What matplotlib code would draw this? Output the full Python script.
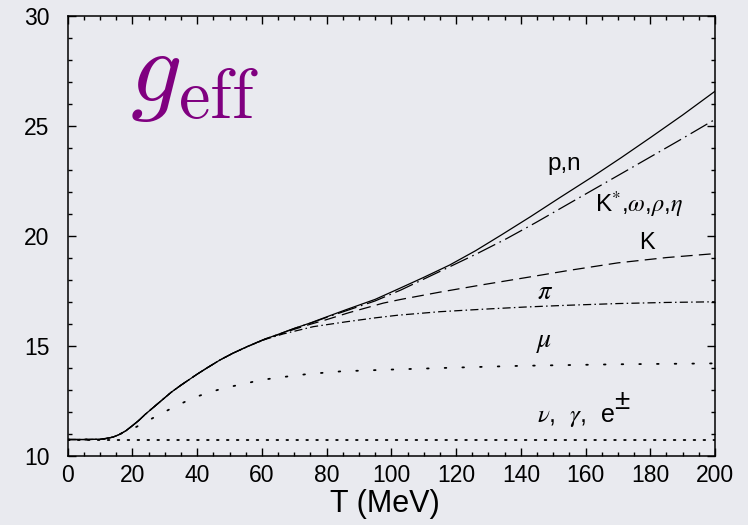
import matplotlib
matplotlib.use("Agg")
import matplotlib.pyplot as plt
from matplotlib.ticker import MultipleLocator

plt.rcParams['font.family'] = ['Liberation Sans', 'DejaVu Sans']
plt.rcParams['mathtext.fontset'] = 'stix'

# ---- data ----
T_total = [0, 5, 10, 12, 14, 16, 18, 20, 22, 24, 26, 28, 30, 32, 35, 38, 40, 43, 47, 51,
           56, 61, 66, 70, 75, 79, 86, 95, 103, 110, 118, 126, 134, 143, 152, 162, 171,
           180, 190, 200]
g_total = [10.75, 10.75, 10.76, 10.80, 10.86, 10.98, 11.15, 11.38, 11.62, 11.9, 12.15,
           12.4, 12.65, 12.9, 13.22, 13.52, 13.72, 14.0, 14.36, 14.67, 15.01, 15.32, 15.58,
           15.8, 16.05, 16.27, 16.65, 17.12, 17.65, 18.12, 18.68, 19.33, 20.05, 20.88,
           21.74, 22.68, 23.56, 24.47, 25.5, 26.58]

T_kstar = [0, 5, 10, 12, 14, 16, 18, 20, 22, 24, 26, 28, 30, 32, 35, 38, 40, 43, 47, 51,
           56, 61, 66, 70, 75, 79, 86, 95, 103, 108, 117, 126.5, 135.6, 144.5, 153.4, 162.3,
           171.1, 180.1, 189.1, 200]
g_kstar = [10.75, 10.75, 10.76, 10.80, 10.86, 10.98, 11.15, 11.38, 11.62, 11.9, 12.15,
           12.4, 12.65, 12.9, 13.22, 13.52, 13.72, 14.0, 14.36, 14.67, 15.01, 15.32, 15.58,
           15.8, 16.04, 16.25, 16.6, 17.05, 17.55, 17.9, 18.53, 19.2, 19.88, 20.6, 21.35,
           22.1, 22.84, 23.6, 24.36, 25.3]

T_kaon = [0, 5, 10, 12, 14, 16, 18, 20, 22, 24, 26, 28, 30, 32, 35, 38, 40, 43, 47, 51,
          56, 61, 66, 70, 75, 80, 87, 97.5, 103, 115, 128, 142, 155, 170, 185, 200]
g_kaon = [10.75, 10.75, 10.76, 10.80, 10.86, 10.98, 11.15, 11.38, 11.62, 11.9, 12.15,
          12.4, 12.65, 12.9, 13.22, 13.52, 13.72, 14.0, 14.36, 14.67, 15.01, 15.31, 15.56,
          15.76, 15.99, 16.2, 16.52, 16.95, 17.12, 17.45, 17.78, 18.12, 18.44, 18.78, 19.02,
          19.2]

T_pion = [0, 5, 10, 12, 14, 16, 18, 20, 22, 24, 26, 28, 30, 32, 35, 38, 40, 43, 47, 51,
          56, 61, 66.6, 75.9, 86, 95, 102, 115, 128, 141, 154, 170, 185, 200]
g_pion = [10.75, 10.75, 10.76, 10.80, 10.86, 10.98, 11.15, 11.38, 11.62, 11.9, 12.15,
          12.4, 12.65, 12.9, 13.22, 13.52, 13.72, 14.0, 14.36, 14.67, 15.0, 15.3, 15.55,
          15.88, 16.1, 16.28, 16.4, 16.56, 16.67, 16.77, 16.85, 16.93, 16.98, 17.01]

T_muon = [0, 5, 10, 13, 16.7, 21.3, 25.6, 30.1, 34.7, 39.3, 44.3, 49.2, 54.2, 59.2, 64.2,
          69.3, 74.4, 79.6, 84.6, 100, 120, 140, 170, 200]
g_muon = [10.75, 10.75, 10.75, 10.82, 11.03, 11.33, 11.67, 12.02, 12.36, 12.67, 12.92,
          13.12, 13.27, 13.44, 13.55, 13.64, 13.73, 13.79, 13.85, 13.93, 14.02, 14.1, 14.17,
          14.21]

T_light = [0, 200]
g_light = [10.75, 10.75]

# ---- figure ----
bg = '#e9eaef'
fig = plt.figure(figsize=(7.48, 5.25), dpi=100, facecolor=bg)
ax = fig.add_axes([0.0905, 0.1314, 0.8654, 0.8381], facecolor=bg)

lw = 0.9
ax.plot(T_light, g_light, color='black', lw=1.3, linestyle=(0, (0.9, 4.6)),
        dash_capstyle='round')
ax.plot(T_muon, g_muon, color='black', lw=1.3, linestyle=(0, (0.9, 8.9)),
        dash_capstyle='round')
ax.plot(T_pion, g_pion, color='black', lw=lw, linestyle=(0, (6.5, 2.6, 1.2, 2.6)))
ax.plot(T_kaon, g_kaon, color='black', lw=lw, linestyle=(0, (9.5, 5.0)))
ax.plot(T_kstar, g_kstar, color='black', lw=lw, linestyle=(0, (15.5, 3.8, 1.3, 3.8)))
ax.plot(T_total, g_total, color='black', lw=lw, linestyle='-')

ax.set_xlim(0, 200)
ax.set_ylim(10, 30)
ax.xaxis.set_major_locator(MultipleLocator(20))
ax.xaxis.set_minor_locator(MultipleLocator(5))
ax.yaxis.set_major_locator(MultipleLocator(5))
ax.yaxis.set_minor_locator(MultipleLocator(1))
ax.tick_params(which='both', direction='in', top=True, right=True, width=1.0,
               color='black')
ax.tick_params(which='major', length=5.5)
ax.tick_params(which='minor', length=2.6)
ax.tick_params(axis='x', which='major', labelsize=16.5, pad=6)
ax.tick_params(axis='y', which='major', labelsize=16.5, pad=13)
for s in ax.spines.values():
    s.set_linewidth(1.1)

ax.set_xlabel('T (MeV)', fontsize=22, labelpad=3.5)
ax.xaxis.set_label_coords(0.49, -0.075)

# labels
fs = 17
ax.text(148.2, 23.0, 'p,n', fontsize=fs + 0.5, ha='left', va='baseline')
ax.text(163, 21.1, r'K$^{*}$,$\omega$,$\rho$,$\eta$', fontsize=fs + 0.5, ha='left',
        va='baseline')
ax.text(176.6, 19.4, 'K', fontsize=fs, ha='left', va='baseline')
ax.text(145, 17.12, r'$\pi$', fontsize=19, ha='left', va='baseline')
ax.text(144.8, 14.95, r'$\mu$', fontsize=20, ha='left', va='baseline')
ax.text(144.9, 11.56, r'$\nu$,  $\gamma$,  e', fontsize=18, ha='left', va='baseline')
ax.text(168.8, 12.15, '±', fontsize=20, ha='left', va='baseline')

ax.text(19.3, 26.15, r'$g_{\rm eff}$', fontsize=73, color='#800080', ha='left',
        va='baseline', math_fontfamily='cm')

fig.savefig('out.png', dpi=100, facecolor=bg)
